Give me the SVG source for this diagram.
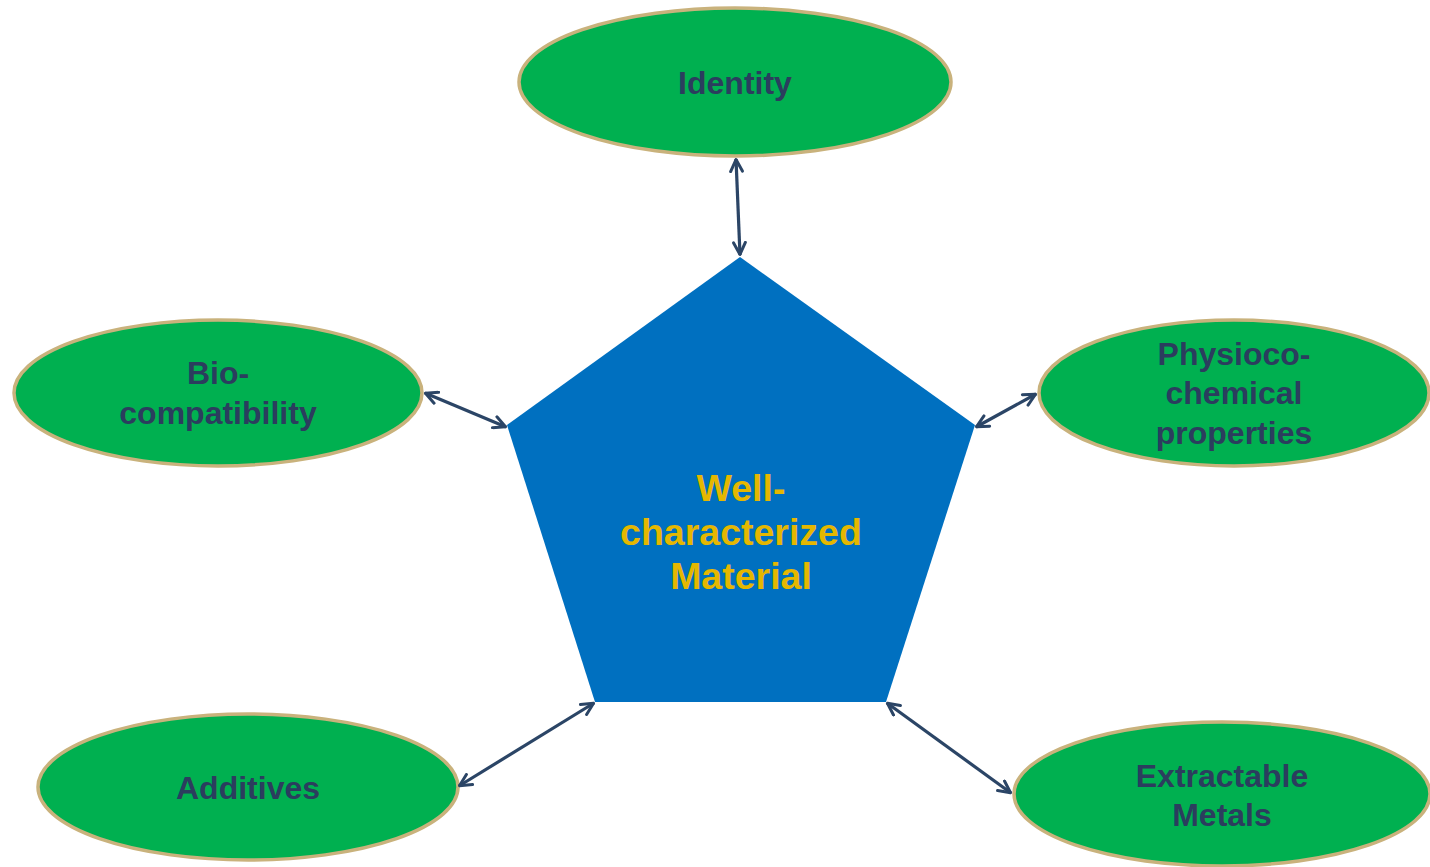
<svg xmlns="http://www.w3.org/2000/svg" width="1430" height="867" viewBox="0 0 1430 867">
<style>
.ell{fill:#00b050;stroke:#c9b27c;stroke-width:3.5}
.lbl{font-family:"Liberation Sans",Arial,sans-serif;font-weight:bold;font-size:32px;fill:#2b3d5e;text-anchor:middle}
.ctr{font-family:"Liberation Sans",Arial,sans-serif;font-weight:bold;font-size:37.5px;fill:#e5b700;text-anchor:middle}
.con{stroke:#2b4566;stroke-width:3.2;fill:none;marker-start:url(#ah);marker-end:url(#ah)}
</style>
<defs>
<marker id="ah" viewBox="0 0 14 14" refX="13" refY="7" markerWidth="15" markerHeight="15" markerUnits="userSpaceOnUse" orient="auto-start-reverse">
<path d="M1.5,1.5 L12.5,7 L1.5,12.5" fill="none" stroke="#2b4566" stroke-width="2.8" stroke-linecap="round" stroke-linejoin="round"/>
</marker>
</defs>
<rect width="1430" height="867" fill="#ffffff"/>
<g id="center">
<polygon points="740,257 975,425 886,702 595,702 507,425" fill="#0070c0"/>
<text class="ctr" x="741" y="501">Well-</text>
<text class="ctr" x="741" y="545">characterized</text>
<text class="ctr" x="741" y="589">Material</text>
</g>
<g id="identity">
<ellipse class="ell" cx="735" cy="82" rx="216" ry="74"/>
<text class="lbl" x="735" y="94">Identity</text>
</g>
<g id="biocompatibility">
<ellipse class="ell" cx="218" cy="393" rx="204" ry="73"/>
<text class="lbl" x="218" y="384">Bio-</text>
<text class="lbl" x="218" y="424">compatibility</text>
</g>
<g id="physiochemical">
<ellipse class="ell" cx="1234" cy="393" rx="195" ry="73"/>
<text class="lbl" x="1234" y="365">Physioco-</text>
<text class="lbl" x="1234" y="404">chemical</text>
<text class="lbl" x="1234" y="444">properties</text>
</g>
<g id="additives">
<ellipse class="ell" cx="248" cy="787" rx="210" ry="73"/>
<text class="lbl" x="248" y="799">Additives</text>
</g>
<g id="extractable">
<ellipse class="ell" cx="1222" cy="794" rx="208" ry="72"/>
<text class="lbl" x="1222" y="787">Extractable</text>
<text class="lbl" x="1222" y="826">Metals</text>
</g>
<g id="connectors">
<line class="con" x1="736" y1="159" x2="740" y2="255"/>
<line class="con" x1="425" y1="393" x2="506" y2="427"/>
<line class="con" x1="1036" y1="394" x2="976" y2="427"/>
<line class="con" x1="459" y1="786" x2="594" y2="703"/>
<line class="con" x1="887" y1="703" x2="1011" y2="793"/>
</g>
</svg>
